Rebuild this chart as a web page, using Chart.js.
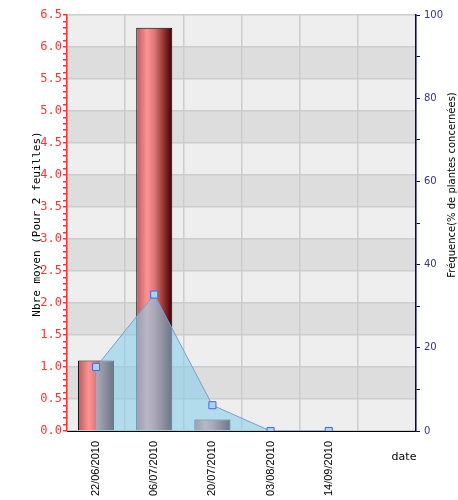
<!DOCTYPE html>
<html>
<head>
<meta charset="utf-8">
<script src="https://cdn.jsdelivr.net/npm/chart.js@4.4.0/dist/chart.umd.min.js"></script>
<style>
  html, body { margin: 0; padding: 0; background: #fff; }
  #wrap { width: 458px; height: 500px; }
</style>
</head>
<body>
<div id="wrap"><canvas id="myChart" width="458" height="500"></canvas></div>
<script>
'use strict'

// data //
let dates = ['22/06/2010', '06/07/2010', '20/07/2010', '03/08/2010', '14/09/2010', ''];
let nbreMoyen = [1.1, 6.3, 0.18, 0, 0, null];
let frequence = [15.4, 32.8, 6.2, 0, 0, null];
let leftTicks = ['0.0', '0.5', '1.0', '1.5', '2.0', '2.5', '3.0', '3.5', '4.0', '4.5', '5.0', '5.5', '6.0', '6.5'];
let rightTicks = [0, 20, 40, 60, 80, 100];

const barShare = 0.62;

function isMajor(v){
  return leftTicks.indexOf(v.toFixed(1)) !== -1 && Math.round(v * 10) % 5 === 0;
}

// red cylinder look for the bars //
function barGradient(context){
  let chart = context.chart;
  let xs = chart.scales.x;
  if (!xs || !chart.chartArea) {
    return '#ff8888';
  }
  let cx = xs.getPixelForValue(context.dataIndex);
  let w = xs.width / dates.length * barShare;
  let g = chart.ctx.createLinearGradient(cx - w / 2, 0, cx + w / 2, 0);
  g.addColorStop(0, '#b85a5a');
  g.addColorStop(0.3, '#ff9494');
  g.addColorStop(0.5, '#e07878');
  g.addColorStop(0.8, '#8a2a2a');
  g.addColorStop(1, '#3a0000');
  return g;
}

// grey bands behind the plot //
const bands = {
  id: 'bands',
  beforeDraw(chart){
    let ctx = chart.ctx;
    let a = chart.chartArea;
    let ys = chart.scales.y;
    ctx.save();
    for (let i = 0; i < leftTicks.length - 1; i++){
      let top = ys.getPixelForValue(parseFloat(leftTicks[i + 1]));
      let bot = ys.getPixelForValue(parseFloat(leftTicks[i]));
      ctx.fillStyle = (leftTicks.length - 2 - i) % 2 === 0 ? '#eeeeee' : '#dddddd';
      ctx.fillRect(a.left, top, a.right - a.left, bot - top);
    }
    ctx.restore();
  }
};

// axis titles //
const titles = {
  id: 'titles',
  afterDraw(chart){
    let ctx = chart.ctx;
    let a = chart.chartArea;
    ctx.save();
    ctx.fillStyle = '#000';
    ctx.textAlign = 'center';
    ctx.textBaseline = 'middle';

    ctx.font = '11px "DejaVu Sans Mono"';
    ctx.save();
    ctx.translate(37, 224);
    ctx.rotate(-Math.PI / 2);
    ctx.fillText('Nbre moyen (Pour 2 feuilles)', 0, 0);
    ctx.restore();

    ctx.font = '10px "DejaVu Sans"';
    ctx.save();
    ctx.translate(452, 185);
    ctx.rotate(-Math.PI / 2);
    ctx.fillText('Fréquence(% de plantes concernées)', 0, 0);
    ctx.restore();

    ctx.font = '11px "DejaVu Sans"';
    ctx.fillText('date', a.right - 12, a.bottom + 26);
    ctx.restore();
  }
};

let ctx = document.getElementById('myChart').getContext('2d');
let myChart = new Chart(ctx, {
  data: {
    labels: dates,
    datasets: [{
      type: 'line',
      label: 'Fréquence',
      data: frequence,
      yAxisID: 'y1',
      order: 0,
      borderColor: '#7a9ed0',
      borderWidth: 1,
      backgroundColor: 'rgba(135, 206, 235, 0.58)',
      fill: 'origin',
      tension: 0,
      pointStyle: 'rect',
      pointRadius: 5,
      pointBackgroundColor: '#a8d4f0',
      pointBorderColor: '#4466ee',
      pointBorderWidth: 1
    }, {
      type: 'bar',
      label: 'Nbre moyen',
      data: nbreMoyen,
      yAxisID: 'y',
      order: 1,
      backgroundColor: barGradient,
      borderColor: '#000',
      borderWidth: 1,
      barPercentage: barShare,
      categoryPercentage: 1
    }]
  },
  options: {
    responsive: false,
    animation: false,
    devicePixelRatio: 1,
    layout: { padding: { top: 15, left: 0, right: 0, bottom: 0 } },
    plugins: {
      legend: { display: false },
      tooltip: { enabled: false }
    },
    scales: {
      x: {
        offset: true,
        border: { color: '#000', width: 1 },
        grid: { offset: true, color: '#cccccc', lineWidth: 1.5, drawTicks: false },
        ticks: {
          minRotation: 90, maxRotation: 90, padding: 10, autoSkip: false,
          color: '#000',
          font: { family: '"Liberation Sans"', size: 11 }
        },
        afterFit(scale){ scale.height = 69; }
      },
      y: {
        position: 'left',
        min: 0, max: 6.5,
        border: { color: '#ff3333', width: 1.5 },
        grid: {
          color: (c) => c.tick && isMajor(c.tick.value) ? '#cccccc' : 'rgba(0,0,0,0)',
          lineWidth: 1.5,
          tickColor: '#ff3333',
          tickLength: 4
        },
        ticks: {
          stepSize: 0.1, autoSkip: false, padding: 1,
          color: '#ff3333',
          font: { family: '"DejaVu Sans Mono"', size: 12 },
          callback: (v) => isMajor(v) ? v.toFixed(1) : ''
        },
        afterFit(scale){ scale.width = 67; }
      },
      y1: {
        position: 'right',
        min: 0, max: 100,
        border: { color: '#000080', width: 1.5 },
        grid: { drawOnChartArea: false, tickColor: '#000080', tickLength: 4 },
        ticks: {
          stepSize: 10, autoSkip: false, padding: 4,
          color: '#333399',
          font: { family: '"DejaVu Sans"', size: 10 },
          callback: (v) => rightTicks.indexOf(v) !== -1 ? v : ''
        },
        afterFit(scale){ scale.width = 42; }
      }
    }
  },
  plugins: [bands, titles]
});
</script>
</body>
</html>
